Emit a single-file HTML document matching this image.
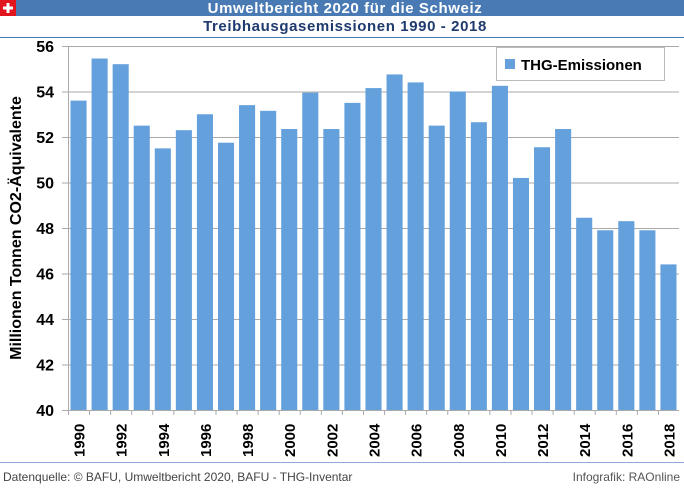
<!DOCTYPE html>
<html><head><meta charset="utf-8"><style>
body{margin:0;width:684px;height:488px;background:#fff;overflow:hidden;font-family:"Liberation Sans",Arial,sans-serif}
</style></head><body>
<svg width="684" height="488" xmlns="http://www.w3.org/2000/svg">
<rect x="0" y="0" width="684" height="16" fill="#4a7ab4"/>
<rect x="0" y="0" width="16" height="16" fill="#e0141e"/>
<rect x="6.5" y="3" width="3" height="10" fill="#fff"/><rect x="3" y="6.5" width="10" height="3" fill="#fff"/>
<text x="345" y="13" text-anchor="middle" font-size="15" font-weight="bold" letter-spacing="0.6" fill="#fff">Umweltbericht 2020 für die Schweiz</text>
<text x="345" y="31" text-anchor="middle" font-size="15" font-weight="bold" letter-spacing="0.6" fill="#1f3a6e">Treibhausgasemissionen 1990 - 2018</text>
<line x1="0" y1="37.5" x2="684" y2="37.5" stroke="#4a7ab4" stroke-width="1"/>
<g id="plot"></g>
<text transform="translate(21,228) rotate(-90)" text-anchor="middle" font-size="16" font-weight="bold" fill="#000">Millionen Tonnen CO2-Äquivalente</text>
<g>
<rect x="496.5" y="47.5" width="168" height="33" fill="#fff" stroke="#bbb"/>
<rect x="505" y="59" width="10" height="10" fill="#63a0dc"/>
<text x="521" y="70" font-size="15" font-weight="bold" fill="#000">THG-Emissionen</text>
</g>
<line x1="0" y1="462.5" x2="684" y2="462.5" stroke="#8ea9d8" stroke-width="1"/>
<text x="3" y="481" font-size="12" fill="#444">Datenquelle: © BAFU, Umweltbericht 2020, BAFU - THG-Inventar</text>
<text x="680" y="481" text-anchor="end" font-size="12" fill="#555">Infografik: RAOnline</text>
</svg>
<script>
const years=[1990,1991,1992,1993,1994,1995,1996,1997,1998,1999,2000,2001,2002,2003,2004,2005,2006,2007,2008,2009,2010,2011,2012,2013,2014,2015,2016,2017,2018];
const values=[53.6,55.45,55.2,52.5,51.5,52.3,53.0,51.75,53.4,53.15,52.35,53.95,52.35,53.5,54.15,54.75,54.4,52.5,54.0,52.65,54.25,50.2,51.55,52.35,48.45,47.9,48.3,47.9,46.4];
const yTicks=[40,42,44,46,48,50,52,54,56];
const NS='http://www.w3.org/2000/svg';
const g=document.getElementById('plot');
const X0=68,X1=679,Y0=410,Y1=46,yMin=40,yMax=56;
const slot=(X1-X0)/years.length;
const y=v=>Y0-(v-yMin)/(yMax-yMin)*(Y0-Y1);
const x=i=>X0+i*slot;
function mk(t,a){const e=document.createElementNS(NS,t);for(const k in a)e.setAttribute(k,a[k]);g.appendChild(e);return e;}
yTicks.forEach(t=>{
 const l=mk('line',{x1:X0-6,x2:X1,y1:y(t)+.5,y2:y(t)+.5,stroke:'#aaa'});
 
 
 const tx=mk('text',{x:X0-14,y:y(t)+6,'text-anchor':'end','font-size':16,'font-weight':'bold'});
 tx.textContent=t;
 
 
});
mk('line',{x1:X0+.5,x2:X0+.5,y1:Y1,y2:Y0,stroke:'#aaa'});
values.forEach((v,i)=>{
 const r=mk('rect',{x:x(i)+2.5,y:y(v),width:slot-5,height:Y0-y(v),fill:'#63a0dc'});
 
 
 const tk=mk('line',{x1:x(i)+.5,x2:x(i)+.5,y1:Y0,y2:Y0+5,stroke:'#aaa'});
 
 
 if(i%2===0){
  const cx=x(i)+slot/2+6;
  const tx=mk('text',{x:0,y:0,transform:`translate(${cx},457) rotate(-90)`,'font-size':15,'font-weight':'bold'});
  tx.textContent=years[i];
  
  
 }
});
</script>
</body></html>
